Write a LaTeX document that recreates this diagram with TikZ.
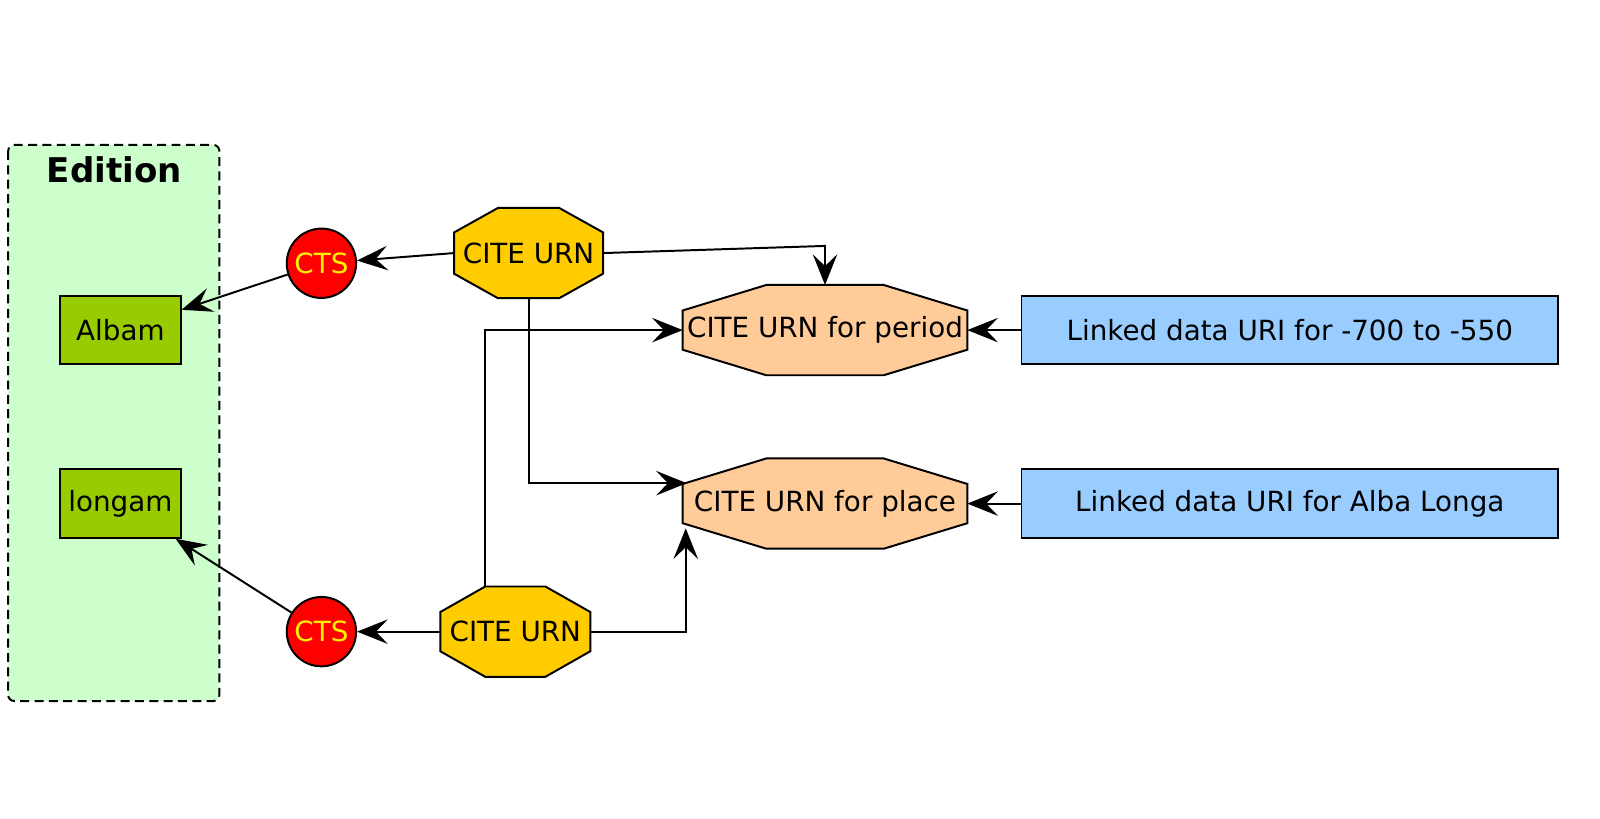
\documentclass[tikz,border=0pt]{standalone}
\usepackage{fontspec}
\setmainfont{DejaVu Sans}
\usetikzlibrary{arrows.meta,calc,backgrounds}
\definecolor{editionbg}{HTML}{CCFFCC}
\definecolor{wordgreen}{HTML}{99CC00}
\definecolor{citegold}{HTML}{FFCC00}
\definecolor{peach}{HTML}{FFCC99}
\definecolor{linkblue}{HTML}{99CCFF}
\begin{document}
\begin{tikzpicture}[x=0.02cm,y=-0.02cm,
  every node/.style={font=\fontsize{15.5}{18}\selectfont},
  arr/.style={-{Stealth[length=6mm,width=4.8mm,inset=2.3mm]},line width=1.1pt},
  word/.style={draw,line width=1.1pt,fill=wordgreen,minimum width=2.36cm,minimum height=1.34cm,inner sep=0pt},
  cts/.style={circle,draw,line width=1.1pt,fill=red,text=yellow,minimum size=1.36cm,inner sep=0pt},
  oct/.style={rectangle,inner sep=0pt,outer sep=0pt,minimum height=1.77cm},
  linked/.style={draw,line width=1.1pt,fill=linkblue,minimum width=10.52cm,minimum height=1.34cm,inner sep=0pt}]
\useasboundingbox (0,0) rectangle (1568,802);

% Edition box
\draw[line width=1.1pt,dash pattern=on 5pt off 3pt,rounded corners=0.12cm,fill=editionbg] (8,142) rectangle (215,687);
\node[font=\fontsize{19}{22}\selectfont\bfseries] (edition) at (112,166) {Edition};
\node[word] (albam) at (118,323.5) {Albam};
\node[word] (longam) at (118,493.5) {longam};

\node[cts] (cts1) at (315,258) {CTS};
\node[cts] (cts2) at (315,619) {CTS};

\node[oct,minimum width=2.92cm] (cite1) at (518,248) {CITE URN};
\node[oct,minimum width=2.94cm] (cite2) at (505,619) {CITE URN};
\node[oct,minimum width=5.58cm] (period) at (808.5,323.5) {CITE URN for period};
\node[oct,minimum width=5.58cm] (place) at (808.5,493.5) {CITE URN for place};

\node[linked] (link1) at (1264,323.5) {Linked data URI for -700 to -550};
\node[linked] (link2) at (1264,493.5) {Linked data URI for Alba Longa};

% octagons behind the text
\begin{scope}[on background layer]
\foreach \n/\cx/\cy/\col in {cite1/43/24/citegold, cite2/44/25/citegold, period/82/25/peach, place/82/25/peach}
  \filldraw[line width=1.1pt,fill=\col]
    ($(\n.north west)+(\cx,0)$) -- ($(\n.north east)+(-\cx,0)$) -- ($(\n.north east)+(0,\cy)$)
    -- ($(\n.south east)+(0,-\cy)$) -- ($(\n.south east)+(-\cx,0)$) -- ($(\n.south west)+(\cx,0)$)
    -- ($(\n.south west)+(0,-\cy)$) -- ($(\n.north west)+(0,\cy)$) -- cycle;
\end{scope}

% arrows
\coordinate (k1) at (808.5,241);
\draw[arr] (cite1.west) -- (cts1);
\draw[arr] (cts1) -- (albam);
\draw[arr] (cite2) -- (cts2);
\draw[arr] (cts2) -- (longam);
\draw[arr] (cite1.east) -- (k1) -- (period.north);
\draw[arr] (cite1.south) |- ($(place.west)+(4,-20)$);
\draw[arr] ($(cite2.north)+(-30,0)$) |- (period.west);
\draw[arr] (cite2.east) -| ($(place.south west)+(3,-20)$);
\draw[arr] (link1) -- (period);
\draw[arr] (link2) -- (place);
\end{tikzpicture}
\end{document}
